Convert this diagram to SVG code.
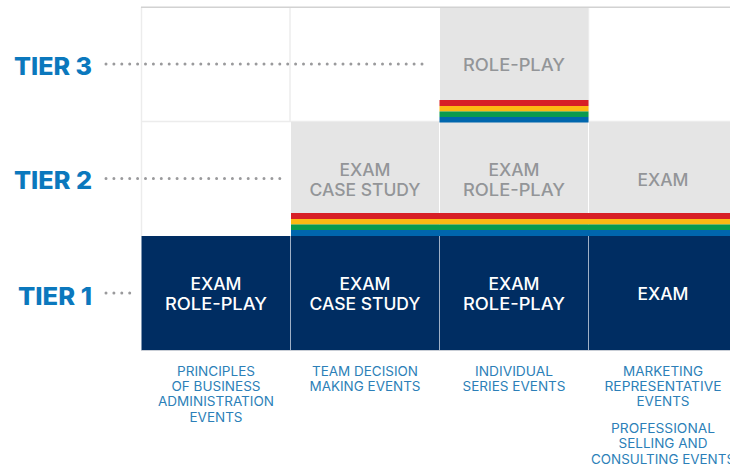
<svg xmlns="http://www.w3.org/2000/svg" width="730" height="467" viewBox="0 0 730 467">
<style>
text{font-family:Inter,"Liberation Sans",sans-serif;text-anchor:middle}
.tier{font-size:24px;font-weight:800;fill:#0b78bd;text-anchor:start}
.g{font-size:17px;font-weight:500;fill:#939598}
.w{font-size:17px;font-weight:500;fill:#fff}
.c{font-size:13px;font-weight:400;fill:#2c7fb8}
.dots{stroke:#9a9a9c;stroke-width:3;stroke-linecap:round;stroke-dasharray:0 7.9;fill:none}
.grey{fill:#e5e5e5}
.navy{fill:#002d62}
.ln{stroke:#ececec;stroke-width:1.4;fill:none}
.nl{stroke:#9fb0c6;stroke-width:1;fill:none}
</style>
<rect width="730" height="467" fill="#fff"/>
<g id="grid">
<path class="ln" d="M141.500 7V236M290 7V122M141 121.500H730M588.500 7V122"/>
<path d="M141 7.300H730" stroke="#d2d2d2" stroke-width="1.400" fill="none"/>
</g>
<g id="tier3-cell"><rect class="grey" x="440" y="8" width="148" height="113"/><text class="g" x="514" y="71" textLength="102" lengthAdjust="spacingAndGlyphs">ROLE-PLAY</text></g>
<g id="tier2-cell1"><rect class="grey" x="291" y="122" width="148" height="114"/><text class="g" x="365" y="175.500" textLength="51" lengthAdjust="spacingAndGlyphs">EXAM</text><text class="g" x="365" y="195.500" textLength="111" lengthAdjust="spacingAndGlyphs">CASE STUDY</text></g>
<g id="tier2-cell2"><rect class="grey" x="440" y="122" width="148" height="114"/><text class="g" x="514" y="175.500" textLength="51" lengthAdjust="spacingAndGlyphs">EXAM</text><text class="g" x="514" y="195.500" textLength="102" lengthAdjust="spacingAndGlyphs">ROLE-PLAY</text></g>
<g id="tier2-cell3"><rect class="grey" x="589" y="122" width="141" height="114"/><text class="g" x="663" y="185.500" textLength="51" lengthAdjust="spacingAndGlyphs">EXAM</text></g>
<g id="rainbow3"><rect x="439.500" y="100" width="149" height="6" fill="#d71f26"/><rect x="439.500" y="106" width="149" height="5.500" fill="#fdb913"/><rect x="439.500" y="111.500" width="149" height="5.500" fill="#0a9a4f"/><rect x="439.500" y="117" width="149" height="5.500" fill="#0066ad"/></g>
<g id="rainbow2"><rect x="291" y="213" width="439" height="6" fill="#d71f26"/><rect x="291" y="219" width="439" height="5.500" fill="#fdb913"/><rect x="291" y="224.500" width="439" height="5.500" fill="#0a9a4f"/><rect x="291" y="230" width="439" height="6" fill="#0066ad"/></g>
<g id="tier1-cell1"><rect class="navy" x="141.500" y="236" width="148.500" height="114"/><text class="w" x="216" y="290" textLength="51" lengthAdjust="spacingAndGlyphs">EXAM</text><text class="w" x="216" y="310" textLength="102" lengthAdjust="spacingAndGlyphs">ROLE-PLAY</text></g>
<g id="tier1-cell2"><rect class="navy" x="290" y="236" width="149.500" height="114"/><text class="w" x="365" y="290" textLength="51" lengthAdjust="spacingAndGlyphs">EXAM</text><text class="w" x="365" y="310" textLength="111" lengthAdjust="spacingAndGlyphs">CASE STUDY</text></g>
<g id="tier1-cell3"><rect class="navy" x="439" y="236" width="150" height="114"/><text class="w" x="514" y="290" textLength="51" lengthAdjust="spacingAndGlyphs">EXAM</text><text class="w" x="514" y="310" textLength="102" lengthAdjust="spacingAndGlyphs">ROLE-PLAY</text></g>
<g id="tier1-cell4"><rect class="navy" x="588" y="236" width="142" height="114"/><text class="w" x="663" y="300" textLength="51" lengthAdjust="spacingAndGlyphs">EXAM</text></g>
<g id="dividers"><path class="nl" d="M290.500 236V350M439.500 236V350M588.500 236V350"/><path d="M141 350.500H730" stroke="#c9ced6" stroke-width="1" fill="none"/></g>
<g id="connectors">
<path class="dots" d="M106 64H425"/>
<path class="dots" d="M106 178.500H284"/>
<path class="dots" d="M106 293H134"/>
</g>
<g id="tier3"><text class="tier" x="14" y="74.500" textLength="78" lengthAdjust="spacingAndGlyphs">TIER 3</text></g>
<g id="tier2"><text class="tier" x="14" y="189" textLength="78" lengthAdjust="spacingAndGlyphs">TIER 2</text></g>
<g id="tier1"><text class="tier" x="18" y="304.500" textLength="74" lengthAdjust="spacingAndGlyphs">TIER 1</text></g>
<g id="col1"><text class="c" x="216" y="376" textLength="78" lengthAdjust="spacingAndGlyphs">PRINCIPLES</text><text class="c" x="216" y="391" textLength="89" lengthAdjust="spacingAndGlyphs">OF BUSINESS</text><text class="c" x="216" y="406" textLength="116" lengthAdjust="spacingAndGlyphs">ADMINISTRATION</text><text class="c" x="216" y="422" textLength="53" lengthAdjust="spacingAndGlyphs">EVENTS</text></g>
<g id="col2"><text class="c" x="365" y="376" textLength="106" lengthAdjust="spacingAndGlyphs">TEAM DECISION</text><text class="c" x="365" y="391" textLength="111" lengthAdjust="spacingAndGlyphs">MAKING EVENTS</text></g>
<g id="col3"><text class="c" x="514" y="376" textLength="78" lengthAdjust="spacingAndGlyphs">INDIVIDUAL</text><text class="c" x="514" y="391" textLength="103" lengthAdjust="spacingAndGlyphs">SERIES EVENTS</text></g>
<g id="col4"><text class="c" x="663" y="376" textLength="80" lengthAdjust="spacingAndGlyphs">MARKETING</text><text class="c" x="663" y="391" textLength="117" lengthAdjust="spacingAndGlyphs">REPRESENTATIVE</text><text class="c" x="663" y="406" textLength="53" lengthAdjust="spacingAndGlyphs">EVENTS</text><text class="c" x="663" y="433" textLength="104" lengthAdjust="spacingAndGlyphs">PROFESSIONAL</text><text class="c" x="663" y="448" textLength="89" lengthAdjust="spacingAndGlyphs">SELLING AND</text><text class="c" x="663" y="463.500" textLength="144" lengthAdjust="spacingAndGlyphs">CONSULTING EVENTS</text></g>
</svg>
